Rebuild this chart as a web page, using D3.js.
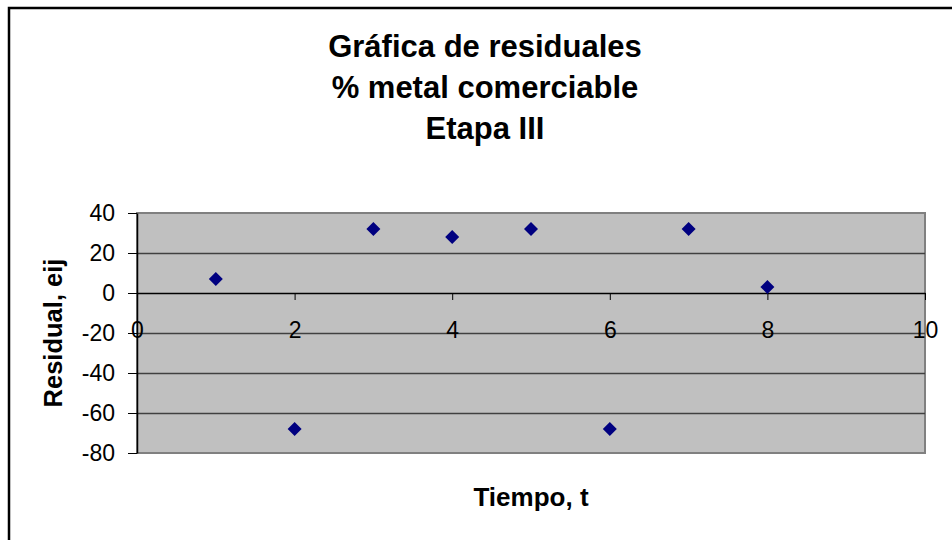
<!DOCTYPE html>
<html>
<head>
<meta charset="utf-8">
<script src="https://cdn.jsdelivr.net/npm/d3@7"></script>
<style>
  body { margin: 0; background: #fff; }
  svg { display: block; font-family: "Liberation Sans", Arial, sans-serif; }
</style>
</head>
<body>
<svg id="chart" width="952" height="540"></svg>
<script>
// datos
const tiempo = [1, 2, 3, 4, 5, 6, 7, 8];
const residual = [7, -68, 32, 28, 32, -68, 32, 3];
const xTicks = [0, 2, 4, 6, 8, 10];
const yTicks = [40, 20, 0, -20, -40, -60, -80];
const titulo = ["Gráfica de residuales", "% metal comerciable", "Etapa III"];

const svg = d3.select("#chart");

// marco exterior (sólo se ve arriba e izquierda)
svg.append("rect")
    .attr("x", 9).attr("y", 8)
    .attr("width", 960).attr("height", 560)
    .attr("fill", "#fff")
    .attr("stroke", "#000")
    .attr("stroke-width", 2.5);

const plot = { left: 137, top: 213, right: 925, bottom: 453 };

const x = d3.scaleLinear().domain([0, 10]).range([plot.left, plot.right]);
const y = d3.scaleLinear().domain([-80, 40]).range([plot.bottom, plot.top]);

// fondo gris del área de trazado
svg.append("rect")
    .attr("x", plot.left).attr("y", plot.top)
    .attr("width", plot.right - plot.left)
    .attr("height", plot.bottom - plot.top)
    .attr("fill", "#c0c0c0")
    .attr("stroke", "#808080")
    .attr("stroke-width", 2);

// líneas de cuadrícula
svg.append("g")
    .selectAll("line")
    .data(yTicks.filter(d => d !== 40 && d !== -80 && d !== 0))
    .join("line")
    .attr("x1", plot.left).attr("x2", plot.right)
    .attr("y1", d => Math.round(y(d)) + 0.5).attr("y2", d => Math.round(y(d)) + 0.5)
    .attr("stroke", "#404040")
    .attr("stroke-width", 1.3);

// eje Y (guion normal como signo menos)
const yAxis = svg.append("g")
    .attr("transform", `translate(${plot.left},0)`)
    .call(d3.axisLeft(y).tickValues(yTicks).tickFormat(d => String(d))
        .tickSize(9).tickPadding(13).tickSizeOuter(0));
yAxis.select(".domain").attr("stroke", "#000").attr("stroke-width", 1.5);
yAxis.selectAll(".tick line").attr("stroke", "#000");
yAxis.selectAll("text")
    .attr("font-size", "23px")
    .attr("font-family", "'Liberation Sans', Arial, sans-serif")
    .attr("fill", "#000");

// eje X en y = 0
const xAxis = svg.append("g")
    .attr("transform", `translate(0,${y(0)})`)
    .call(d3.axisBottom(x).tickValues(xTicks).tickFormat(d => String(d))
        .tickSize(7).tickPadding(22).tickSizeOuter(0));
xAxis.select(".domain").attr("stroke", "#000").attr("stroke-width", 1.5);
xAxis.selectAll(".tick line").attr("stroke", "#000");
xAxis.selectAll("text")
    .attr("font-size", "23px")
    .attr("font-family", "'Liberation Sans', Arial, sans-serif")
    .attr("fill", "#000");

// puntos (rombos)
const rombo = d3.symbol().type(d3.symbolSquare).size(98);
svg.append("g")
    .selectAll("path")
    .data(tiempo.map((t, i) => ({ t, r: residual[i] })))
    .join("path")
    .attr("d", rombo)
    .attr("transform", d => `translate(${x(d.t)},${y(d.r)}) rotate(45)`)
    .attr("fill", "#000080");

// título
svg.append("g")
    .selectAll("text")
    .data(titulo)
    .join("text")
    .attr("x", 485)
    .attr("y", (d, i) => 57 + i * 41)
    .attr("text-anchor", "middle")
    .attr("font-size", "31px")
    .attr("font-weight", "bold")
    .text(d => d);

// títulos de ejes
svg.append("text")
    .attr("x", (plot.left + plot.right) / 2)
    .attr("y", 506)
    .attr("text-anchor", "middle")
    .attr("font-size", "26px")
    .attr("font-weight", "bold")
    .text("Tiempo, t");

svg.append("text")
    .attr("transform", `translate(62,${(plot.top + plot.bottom) / 2}) rotate(-90)`)
    .attr("text-anchor", "middle")
    .attr("font-size", "25.5px")
    .attr("font-weight", "bold")
    .text("Residual, eij");
</script>
</body>
</html>
